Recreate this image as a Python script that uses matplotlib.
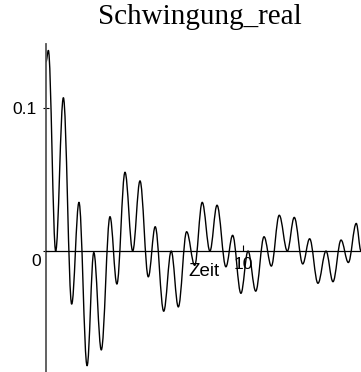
import matplotlib
matplotlib.use("Agg")
import matplotlib.pyplot as plt
from matplotlib.path import Path
from matplotlib.patches import PathPatch
import matplotlib.transforms as mtransforms

# Local extrema of the signal (time, value)
t_ext = [0.00, 0.12, 0.49, 0.88, 1.30, 1.67, 2.08, 2.42, 2.80, 3.24, 3.59,
         4.00, 4.39, 4.76, 5.18, 5.53, 5.96, 6.34, 6.70, 7.12, 7.53, 7.91,
         8.30, 8.66, 9.11, 9.45, 9.87, 10.23, 10.62, 11.04, 11.41, 11.81,
         12.22, 12.57, 13.00, 13.35, 13.77, 14.18, 14.53, 14.94, 15.31,
         15.71, 15.95]
v_ext = [0.132, 0.140, 0.000, 0.107, -0.037, 0.034, -0.080, -0.001, -0.069,
         0.024, -0.023, 0.055, 0.000, 0.049, -0.018, 0.017, -0.042, 0.000,
         -0.039, 0.0135, -0.010, 0.034, 0.000, 0.032, -0.011, 0.011, -0.0295,
         0.000, -0.028, 0.010, -0.0105, 0.025, 0.000, 0.0235, -0.009, 0.0086,
         -0.0225, 0.000, -0.0214, 0.0077, -0.008, 0.0193, 0.000]

title = "Schwingung_real"
x_label = "Zeit"
x_ticks = [10]
x_ticklabels = ["10"]
y_ticks = [0, 0.1]
y_ticklabels = ["0", "0.1"]

W, H = 361, 372
fig = plt.figure(figsize=(W / 100, H / 100), dpi=100)
ax = fig.add_axes([46 / W, 0, (W - 46) / W, (H - 44) / H])
ax.set_xlim(0, 15.95)
ax.set_ylim(-0.0844, 0.1445)

# smooth curve through the extrema (horizontal tangents at each extremum)
k = 0.3634
verts = [(t_ext[0], v_ext[0])]
codes = [Path.MOVETO]
for i in range(len(t_ext) - 1):
    ta, va = t_ext[i], v_ext[i]
    tb, vb = t_ext[i + 1], v_ext[i + 1]
    dx = tb - ta
    verts += [(ta + k * dx, va), (tb - k * dx, vb), (tb, vb)]
    codes += [Path.CURVE4] * 3
ax.add_patch(PathPatch(Path(verts, codes), fill=False, lw=1.0,
                       edgecolor="black", capstyle="round", joinstyle="round"))

for s in ["top", "right"]:
    ax.spines[s].set_visible(False)
ax.spines["bottom"].set_position(("data", 0))
ax.spines["bottom"].set_color("black")
ax.spines["bottom"].set_linewidth(0.9)
ax.spines["left"].set_color("#555555")
ax.spines["left"].set_linewidth(1.3)

tick_font = dict(family="Liberation Sans", size=12.5)
ax.set_xticks(x_ticks)
ax.set_xticklabels(x_ticklabels, **tick_font)
ax.set_yticks(y_ticks)
ax.set_yticklabels(y_ticklabels, **tick_font)
ax.tick_params(axis="x", direction="in", length=4, width=0.8, pad=4)
ax.tick_params(axis="y", direction="inout", length=5, width=0.8, pad=4)
shift = mtransforms.ScaledTranslation(4 / 100, -3 / 100, fig.dpi_scale_trans)
for lbl in ax.yaxis.get_majorticklabels():
    if lbl.get_text() == "0":
        lbl.set_verticalalignment("top")
        lbl.set_transform(lbl.get_transform() + shift)

ax.set_xlabel(x_label, family="Liberation Sans", size=13.5, va="center")
ax.xaxis.set_label_coords(0.5, (H - 271) / (H - 44))

fig.text(200 / W, (H - 24) / H, title, family="Liberation Serif", size=21,
         ha="center", va="baseline")

fig.savefig("out.png", dpi=100)
